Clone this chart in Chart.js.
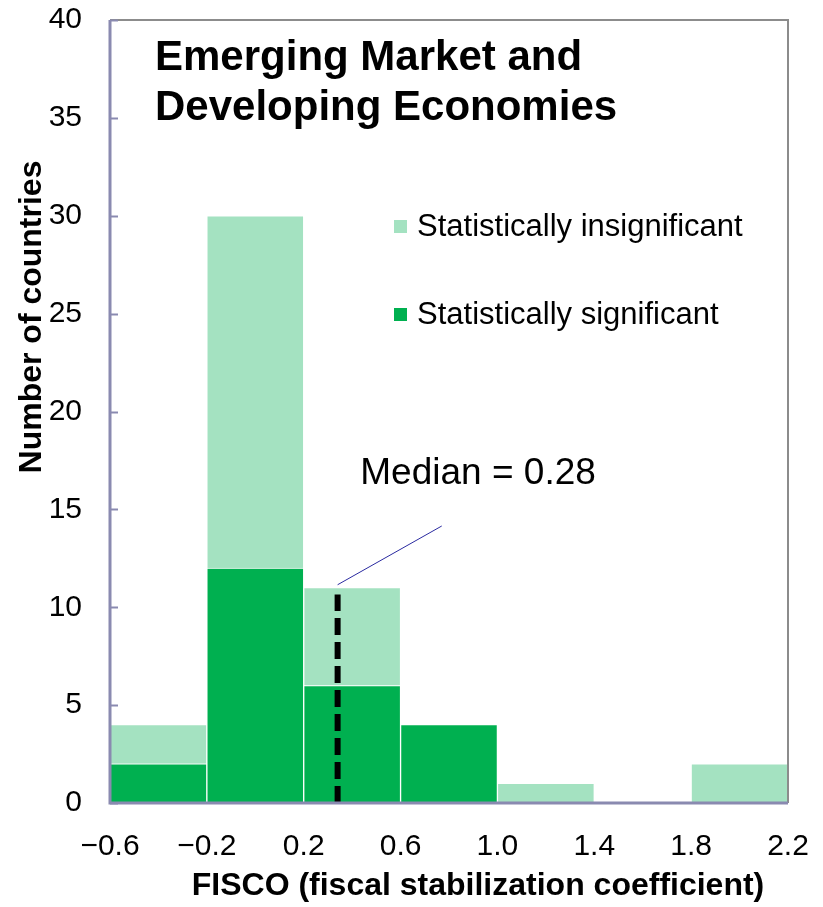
<!DOCTYPE html>
<html>
<head>
<meta charset="utf-8">
<script src="https://cdn.jsdelivr.net/npm/chart.js@4.4.1/dist/chart.umd.min.js"></script>
<style>
  html, body { margin: 0; padding: 0; background: #ffffff; }
  #wrap { width: 823px; height: 907px; position: relative; }
</style>
</head>
<body>
<div id="wrap"><canvas id="c" width="823" height="907"></canvas></div>
<script>
// ---- data ----
const binCenters = [-0.4, 0.0, 0.4, 0.8, 1.2, 1.6, 2.0];
const significant = [2, 12, 6, 4, 0, 0, 0];
const insignificant = [2, 18, 5, 0, 1, 0, 2];
const xTickLabels = ['\u22120.6', '\u22120.2', '0.2', '0.6', '1.0', '1.4', '1.8', '2.2'];
const yTickValues = [0, 5, 10, 15, 20, 25, 30, 35, 40];
const seriesNames = ['Statistically significant', 'Statistically insignificant'];
const titleLines = ['Emerging Market and', 'Developing Economies'];
const xAxisTitle = 'FISCO (fiscal stabilization coefficient)';
const yAxisTitle = 'Number of countries';
const medianLabel = 'Median = 0.28';
const medianLineX = [0.34, 0.34];
const medianLineY = [0, 10.65];
const leaderX = [0.34, 0.77];
const leaderY = [11.15, 14.15];
const medianLabelPos = [0.92, 16.8];

const FONT = '"Liberation Sans", Arial, Helvetica, sans-serif';
const darkGreen = '#00b050';
const lightGreen = '#a4e2c1';
const axisColor = '#8a8ab0';
const frameColor = '#8c8c8c';

const toXY = (xs, ys) => xs.map((x, i) => ({ x: x, y: ys[i] }));

const decorPlugin = {
  id: 'decor',
  afterDatasetsDraw(chart) {
    const ctx = chart.ctx;
    const a = chart.chartArea;
    const xs = chart.scales.x, ys = chart.scales.y;
    ctx.save();
    // top and right frame
    ctx.strokeStyle = frameColor;
    ctx.lineWidth = 2;
    ctx.beginPath();
    ctx.moveTo(a.left, a.top);
    ctx.lineTo(a.right, a.top);
    ctx.lineTo(a.right, a.bottom);
    ctx.stroke();
    // left and bottom axis lines (drawn over the bars)
    ctx.strokeStyle = axisColor;
    ctx.lineWidth = 3;
    ctx.beginPath();
    ctx.moveTo(a.left, a.top);
    ctx.lineTo(a.left, a.bottom);
    ctx.lineTo(a.right, a.bottom);
    ctx.stroke();
    // inward y tick marks
    ctx.lineWidth = 2;
    yTickValues.forEach(v => {
      const py = Math.round(ys.getPixelForValue(v)) + 0.5;
      ctx.beginPath();
      ctx.moveTo(a.left, py);
      ctx.lineTo(a.left + 8, py);
      ctx.stroke();
    });
    // title
    ctx.fillStyle = '#000';
    ctx.textAlign = 'left';
    ctx.textBaseline = 'middle';
    ctx.font = 'bold 42px ' + FONT;
    ctx.fillText(titleLines[0], 155, 58);
    ctx.fillText(titleLines[1], 155, 108);
    // legend (insignificant first)
    ctx.font = '31px ' + FONT;
    const legendOrder = [1, 0];
    legendOrder.forEach((di, k) => {
      const ds = chart.data.datasets[di];
      const cy = 227 + k * 88;
      ctx.fillStyle = ds.backgroundColor;
      ctx.fillRect(394, cy - 7, 13, 13);
      ctx.fillStyle = '#000';
      ctx.fillText(ds.label, 417, cy);
    });
    // median label
    ctx.font = '37px ' + FONT;
    ctx.textAlign = 'center';
    ctx.fillText(medianLabel, xs.getPixelForValue(medianLabelPos[0]), ys.getPixelForValue(medianLabelPos[1]));
    // axis titles
    ctx.font = 'bold 32px ' + FONT;
    ctx.fillText(xAxisTitle, 478, 886);
    ctx.translate(32, 317);
    ctx.rotate(-Math.PI / 2);
    ctx.fillText(yAxisTitle, 0, 0);
    ctx.restore();
  }
};

new Chart(document.getElementById('c'), {
  type: 'bar',
  data: {
    datasets: [
      {
        label: seriesNames[0],
        data: toXY(binCenters, significant),
        backgroundColor: darkGreen,
        borderColor: '#ffffff',
        borderWidth: 1,
        barPercentage: 1,
        categoryPercentage: 1,
        stack: 'bars',
        order: 3
      },
      {
        label: seriesNames[1],
        data: toXY(binCenters, insignificant),
        backgroundColor: lightGreen,
        borderColor: '#ffffff',
        borderWidth: 1,
        barPercentage: 1,
        categoryPercentage: 1,
        stack: 'bars',
        order: 3
      },
      {
        type: 'line',
        label: 'median',
        data: toXY(medianLineX, medianLineY),
        borderColor: '#000000',
        borderWidth: 6,
        borderDash: [17, 7],
        pointRadius: 0,
        fill: false,
        stack: 'm1',
        order: 1
      },
      {
        type: 'line',
        label: 'leader',
        data: toXY(leaderX, leaderY),
        borderColor: '#2a2aa0',
        borderWidth: 1,
        pointRadius: 0,
        fill: false,
        stack: 'm2',
        order: 1
      }
    ]
  },
  options: {
    responsive: false,
    animation: false,
    events: [],
    layout: { padding: { top: 20, right: 35, left: 0, bottom: 0 } },
    plugins: { legend: { display: false }, tooltip: { enabled: false }, title: { display: false } },
    scales: {
      x: {
        type: 'linear',
        offset: false,
        min: -0.6,
        max: 2.2,
        stacked: true,
        grid: { display: false, drawTicks: false },
        border: { display: false },
        ticks: {
          stepSize: 0.4,
          autoSkip: false,
          maxRotation: 0,
          padding: 26,
          color: '#000',
          font: { family: FONT, size: 30 },
          callback: (v, i) => xTickLabels[i]
        },
        afterFit: s => { s.height = 104; s.paddingLeft = 0; s.paddingRight = 0; }
      },
      y: {
        min: 0,
        max: 40,
        stacked: true,
        grid: { display: false, drawTicks: false },
        border: { display: false },
        ticks: {
          stepSize: 5,
          padding: 28,
          color: '#000',
          font: { family: FONT, size: 30 }
        },
        afterFit: s => { s.width = 110; s.paddingTop = 0; s.paddingBottom = 0; }
      }
    }
  },
  plugins: [decorPlugin]
});
</script>
</body>
</html>
